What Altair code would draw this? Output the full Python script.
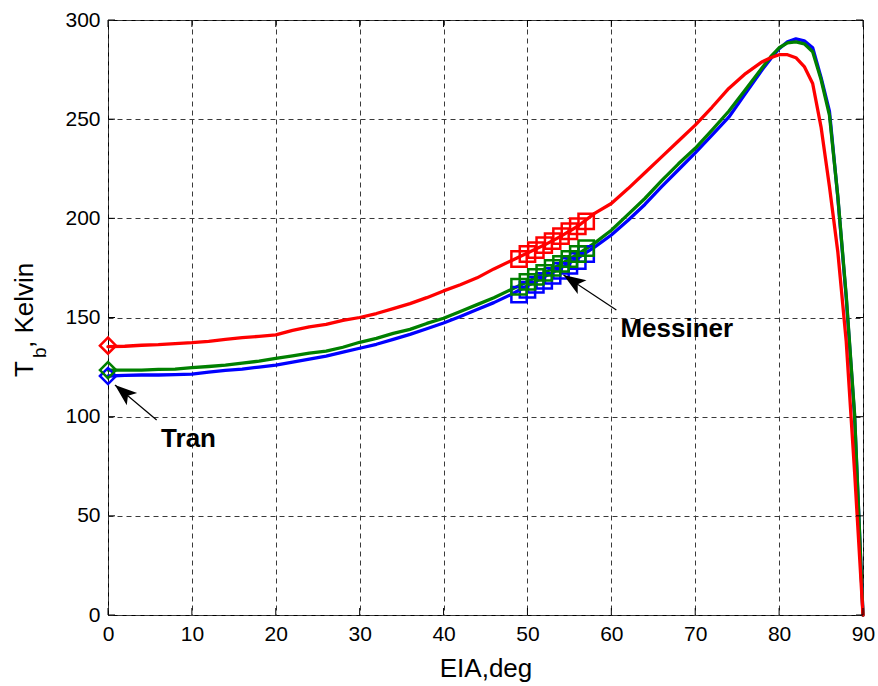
import altair as alt
import pandas as pd

# Brightness temperature vs. incidence angle for three model runs
eia = [0, 2, 4, 6, 8, 10, 12, 14, 16, 18, 20, 22, 24, 26, 28, 30, 32, 34, 36, 38,
       40, 42, 44, 46, 48, 50, 52, 54, 56, 58, 60, 62, 64, 66, 68, 70, 72, 74, 76,
       78, 79, 80, 81, 82, 83, 84, 85, 86, 87, 88, 89, 90]

tb_red = [135.3, 135.5, 136.0, 136.3, 136.8, 137.3, 138.0, 139.0, 139.8, 140.5,
          141.2, 143.5, 145.3, 146.5, 148.5, 150.0, 152.0, 154.5, 157.0, 160.0,
          163.4, 166.5, 170.0, 174.5, 178.5, 182.5, 186.5, 191.0, 196.0, 202.5,
          207.5, 215.0, 223.0, 231.0, 239.0, 247.0, 256.0, 265.5, 273.0, 279.0,
          281.0, 282.5, 282.5, 281.0, 276.5, 268.0, 246.0, 216.0, 183.0, 138.0,
          72.0, 0.0]

tb_green = [123.5, 123.5, 123.5, 123.8, 124.0, 124.7, 125.3, 126.0, 127.0, 128.0,
            129.4, 130.7, 132.0, 133.0, 135.0, 137.5, 139.5, 142.0, 144.0, 147.0,
            149.6, 153.0, 156.5, 160.0, 164.0, 168.0, 172.5, 177.0, 182.0, 187.5,
            194.0, 202.0, 210.0, 219.0, 227.5, 235.3, 244.5, 254.0, 265.0, 276.0,
            281.5, 286.0, 288.5, 289.0, 288.0, 284.0, 270.0, 252.0, 211.0, 161.0,
            101.0, 0.0]

tb_blue = [120.5, 120.8, 121.0, 121.0, 121.2, 121.5, 122.5, 123.3, 124.0, 125.0,
           126.0, 127.5, 129.0, 130.5, 132.5, 134.5, 136.5, 139.0, 141.5, 144.3,
           147.2, 150.5, 154.0, 157.5, 161.5, 166.0, 170.5, 175.0, 180.0, 185.5,
           191.6, 199.0, 207.0, 216.0, 224.5, 233.0, 242.0, 251.0, 263.0, 275.0,
           280.5, 285.5, 289.0, 290.5, 289.5, 286.0, 271.0, 254.0, 210.5, 160.0,
           100.0, 0.0]

# Messiner points (squares)
mess_eia = [49, 50, 51, 52, 53, 54, 55, 56, 57]
mess_red = [179.5, 182.0, 184.0, 186.5, 188.5, 191.0, 193.5, 196.0, 198.5]
mess_green = [165.5, 168.0, 170.5, 172.5, 175.0, 177.0, 179.5, 182.0, 185.0]
mess_blue = [161.5, 164.0, 166.5, 168.5, 171.0, 173.5, 176.0, 178.5, 182.0]

# Tran points (diamonds at nadir)
tran_eia = [0, 0, 0]
tran_tb = [120.5, 123.5, 135.8]
tran_color = ["#0000FF", "#008000", "#FF0000"]

x_ticks = [0, 10, 20, 30, 40, 50, 60, 70, 80, 90]
y_ticks = [0, 50, 100, 150, 200, 250, 300]

# Annotation arrows: tail -> tip, text anchor
arrow_labels = ["Tran", "Messiner"]
arrow_tail_x = [5.8, 60.6]
arrow_tail_y = [98.3, 153.8]
arrow_tip_x = [0.83, 54.3]
arrow_tip_y = [116.0, 171.4]
arrow_angle = [310, 303]
label_x = [9.6, 67.8]
label_y = [84.7, 140.2]

W, H = 755, 595
FONT = "Liberation Sans"

xs = alt.Scale(domain=[0, 90], nice=False)
ys = alt.Scale(domain=[0, 300], nice=False)
x_axis = alt.Axis(values=x_ticks, grid=True, ticks=False, domain=False,
                  labelFontSize=21, labelPadding=8, labelFont=FONT,
                  labelColor="black", labelFlush=False,
                  title="EIA,deg", titleFont=FONT, titleFontSize=26,
                  titleFontWeight="normal", titleColor="black",
                  titleBaseline="alphabetic", titleY=61)
y_axis = alt.Axis(values=y_ticks, grid=True, ticks=False, domain=False,
                  labelFontSize=21, labelPadding=8, labelFont=FONT,
                  labelColor="black", labelFlush=False, title="")


def curve(values, color, with_axes=False):
    df = pd.DataFrame({"eia": eia, "tb": values})
    if with_axes:
        x = alt.X("eia:Q", scale=xs, axis=x_axis)
        y = alt.Y("tb:Q", scale=ys, axis=y_axis)
    else:
        x = alt.X("eia:Q", scale=xs)
        y = alt.Y("tb:Q", scale=ys)
    return alt.Chart(df).mark_line(color=color, strokeWidth=3.3,
                                   strokeJoin="round", strokeCap="round").encode(x=x, y=y)


def squares(values, color):
    df = pd.DataFrame({"eia": mess_eia, "tb": values})
    return alt.Chart(df).mark_point(shape="square", size=235, filled=False,
                                    strokeWidth=2.5, color=color, opacity=1).encode(
        x=alt.X("eia:Q", scale=xs), y=alt.Y("tb:Q", scale=ys))


tran_df = pd.DataFrame({"eia": tran_eia, "tb": tran_tb, "c": tran_color})
diamonds = alt.Chart(tran_df).mark_point(shape="diamond", size=260, filled=False,
                                         strokeWidth=2.5, opacity=1).encode(
    x=alt.X("eia:Q", scale=xs), y=alt.Y("tb:Q", scale=ys),
    color=alt.Color("c:N", scale=None))

# Inward ticks on all four sides of the frame
xt = pd.DataFrame({"v": x_ticks})
yt = pd.DataFrame({"v": y_ticks})
tick_len = 7
ticks = [
    alt.Chart(xt).mark_rule(color="black", strokeWidth=1).encode(
        x=alt.X("v:Q", scale=xs), y=alt.value(H), y2=alt.value(H - tick_len)),
    alt.Chart(xt).mark_rule(color="black", strokeWidth=1).encode(
        x=alt.X("v:Q", scale=xs), y=alt.value(0), y2=alt.value(tick_len)),
    alt.Chart(yt).mark_rule(color="black", strokeWidth=1).encode(
        y=alt.Y("v:Q", scale=ys), x=alt.value(0), x2=alt.value(tick_len)),
    alt.Chart(yt).mark_rule(color="black", strokeWidth=1).encode(
        y=alt.Y("v:Q", scale=ys), x=alt.value(W), x2=alt.value(W - tick_len)),
]

arr_df = pd.DataFrame({"label": arrow_labels, "x0": arrow_tail_x, "y0": arrow_tail_y,
                       "x1": arrow_tip_x, "y1": arrow_tip_y, "ang": arrow_angle,
                       "lx": label_x, "ly": label_y})
arrow_lines = alt.Chart(arr_df).mark_rule(color="black", strokeWidth=1.2).encode(
    x=alt.X("x0:Q", scale=xs), y=alt.Y("y0:Q", scale=ys), x2="x1:Q", y2="y1:Q")
arrow_heads = alt.Chart(arr_df).mark_point(
    shape="M0,0 L0.62,1.7 L0,1.3 L-0.62,1.7 Z", filled=True, color="black",
    size=680, opacity=1, strokeWidth=0).encode(
    x=alt.X("x1:Q", scale=xs), y=alt.Y("y1:Q", scale=ys),
    angle=alt.Angle("ang:Q", scale=None))
arrow_text = alt.Chart(arr_df).mark_text(font=FONT, fontSize=26, fontWeight="bold",
                                         color="black", align="center",
                                         baseline="alphabetic").encode(
    x=alt.X("lx:Q", scale=xs), y=alt.Y("ly:Q", scale=ys), text="label:N")

# Y-axis title with subscript b
def ytitle_part(txt, size, xpos, ypos):
    return alt.Chart(pd.DataFrame({"t": [txt]})).mark_text(
        font=FONT, fontSize=size, angle=270, align="left", baseline="alphabetic",
        color="black").encode(text="t:N", x=alt.value(xpos), y=alt.value(ypos))

ytitle = [
    ytitle_part("T", 26, -75, 357),
    ytitle_part("b", 19, -62, 338),
    ytitle_part(", Kelvin", 26, -75, 328),
]

chart = alt.layer(
    curve(tb_blue, "#0000FF", with_axes=True),
    curve(tb_green, "#008000"),
    curve(tb_red, "#FF0000"),
    squares(mess_blue, "#0000FF"),
    squares(mess_green, "#008000"),
    squares(mess_red, "#FF0000"),
    diamonds,
    *ticks,
    arrow_lines, arrow_heads, arrow_text,
    *ytitle,
).properties(
    width=W, height=H,
    padding={"left": 108, "top": 20, "right": 15, "bottom": 71},
    autosize=alt.AutoSizeParams(type="none"),
    background="white",
).configure_view(
    stroke="black", strokeWidth=1, clip=False
).configure_axis(
    gridColor="#3a3a3a", gridDash=[5, 4], gridWidth=1, gridOpacity=1
)

chart.save("out.html", embed_options={"renderer": "svg", "actions": False})
